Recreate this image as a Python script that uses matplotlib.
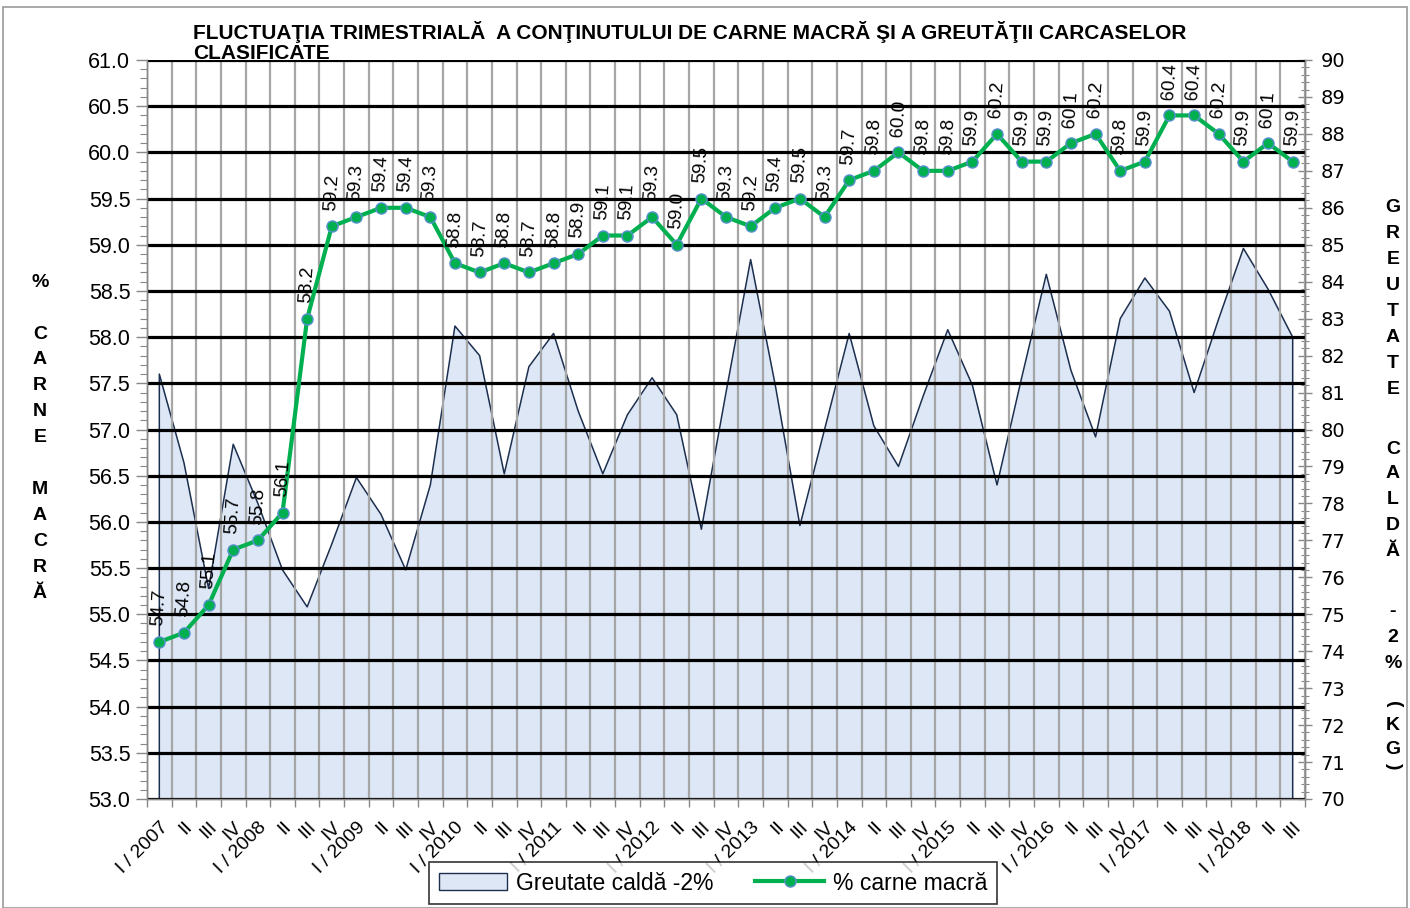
import matplotlib
matplotlib.use("Agg")
import matplotlib.pyplot as plt
from matplotlib.ticker import MultipleLocator, FixedLocator
from matplotlib.patches import Rectangle, Patch
from matplotlib.lines import Line2D
import numpy as np

years = list(range(2007, 2019))
quarter_labels = []
for y in years:
    for q in ["I", "II", "III", "IV"]:
        if y == 2018 and q == "IV":
            continue
        quarter_labels.append(f"I / {y}" if q == "I" else q)

lean_meat = [54.7, 54.8, 55.1, 55.7, 55.8, 56.1, 58.2, 59.2, 59.3, 59.4, 59.4, 59.3,
             58.8, 58.7, 58.8, 58.7, 58.8, 58.9, 59.1, 59.1, 59.3, 59.0, 59.5, 59.3,
             59.2, 59.4, 59.5, 59.3, 59.7, 59.8, 60.0, 59.8, 59.8, 59.9, 60.2, 59.9,
             59.9, 60.1, 60.2, 59.8, 59.9, 60.4, 60.4, 60.2, 59.9, 60.1, 59.9]

hot_weight = [81.5, 79.1, 75.7, 79.6, 78.0, 76.2, 75.2, 76.9, 78.7, 77.7, 76.2, 78.5,
              82.8, 82.0, 78.8, 81.7, 82.6, 80.5, 78.8, 80.4, 81.4, 80.4, 77.3, 81.0,
              84.6, 81.2, 77.4, 80.0, 82.6, 80.1, 79.0, 80.9, 82.7, 81.2, 78.5, 81.4,
              84.2, 81.6, 79.8, 83.0, 84.1, 83.2, 81.0, 83.0, 84.9, 83.8, 82.5]

title = "FLUCTUAŢIA TRIMESTRIALĂ  A CONŢINUTULUI DE CARNE MACRĂ ŞI A GREUTĂŢII CARCASELOR\nCLASIFICATE"
left_label_letters = ["%", "", "C", "A", "R", "N", "E", "", "M", "A", "C", "R", "Ă"]
right_label_letters = ["G", "R", "E", "U", "T", "A", "T", "E", "", "C", "A", "L", "D", "Ă", "", "-", "2", "%"]
legend_area = "Greutate caldă -2%"
legend_line = "% carne macră"

plt.rcParams['font.family'] = ['Liberation Sans', 'DejaVu Sans']

W, H = 1410, 908
fig = plt.figure(figsize=(W / 100, H / 100), dpi=100)
ax = fig.add_axes([147 / W, 1 - 799 / H, (1305 - 147) / W, (799 - 60) / H])
ax2 = ax.twinx()
ax.set_zorder(ax2.get_zorder() + 1)
ax.patch.set_visible(False)

x = np.arange(len(lean_meat))

# area on secondary axis
ax2.fill_between(x, hot_weight, 70, color="#dde7f5", lw=0, zorder=1)
ax2.plot(np.r_[x[0], x, x[-1]], np.r_[70, hot_weight, 70], color="#1c2f4f", lw=1.1, zorder=2)
ax2.set_ylim(70, 90)
ax2.yaxis.set_major_locator(MultipleLocator(1))
ax2.yaxis.set_minor_locator(MultipleLocator(0.2))
ax2.tick_params(axis='y', which='major', direction='inout', length=10, width=1, color='#888888',
                labelsize=14, pad=6)
ax2.tick_params(axis='y', which='minor', direction='inout', length=6, width=0.8, color='#888888')
for lab in ax2.get_yticklabels():
    lab.set_fontfamily('DejaVu Sans')

# main line
ax.plot(x, lean_meat, color="#00b050", lw=3, marker='o', markersize=8,
        markerfacecolor="#00b050", markeredgecolor="#5b8fd0", markeredgewidth=1, zorder=5)
for xi, v in zip(x, lean_meat):
    ax.annotate(f"{v:.1f}", (xi, v), xytext=(0, 11), textcoords='offset points',
                rotation=86, ha='center', va='bottom', fontsize=13.5, zorder=6)

ax.set_ylim(53, 61)
ax.set_xlim(-0.5, len(x) - 0.5)
ax.yaxis.set_major_locator(MultipleLocator(0.5))
ax.yaxis.set_minor_locator(MultipleLocator(0.1))
ax.yaxis.set_major_formatter(plt.FuncFormatter(lambda v, p: f"{v:.1f}"))
ax.tick_params(axis='y', which='major', direction='out', length=8, width=1, color='#888888',
               labelsize=15.5, pad=4)
ax.tick_params(axis='y', which='minor', direction='out', length=5, width=0.8, color='#888888')

ax.set_xticks(x)
ax.set_xticklabels(quarter_labels, rotation=45, ha='right', rotation_mode='anchor', fontsize=14)
ax.xaxis.set_minor_locator(FixedLocator(np.arange(-0.5, len(x), 1.0)))
ax.tick_params(axis='x', which='major', length=0, pad=14)
ax.tick_params(axis='x', which='minor', direction='out', length=6, width=1, color='#888888')

ax.set_axisbelow(True)
ax.grid(axis='y', which='major', color='black', lw=2.3)
ax.grid(axis='x', which='minor', color='#a6a6a6', lw=1.6)

for a in (ax, ax2):
    for s in a.spines.values():
        s.set_color('#888888')
        s.set_linewidth(1)
    a.spines['top'].set_visible(False)

# title
fig.text(193 / W, 1 - 21 / H, title, ha='left', va='top', fontsize=15, fontweight='bold',
         linespacing=1.05, zorder=10)

# vertical axis labels as stacked letters
for i, ch in enumerate(left_label_letters):
    if ch:
        fig.text(40 / W, 1 - (282 + 26 * i) / H, ch, ha='center', va='center',
                 fontsize=14, fontweight='bold')
right_pos = [207, 233, 259, 285, 311, 337, 364, 390, None, 449, 474, 500, 526, 552, None, 612, 637, 663]
for ch, yp in zip(right_label_letters, right_pos):
    if ch and yp:
        fig.text(1393 / W, 1 - yp / H, ch, ha='center', va='center',
                 fontsize=14, fontweight='bold')
fig.text(1393 / W, 1 - 704 / H, "(", ha='center', va='center', fontsize=14,
         fontweight='bold', rotation=-90)
fig.text(1393 / W, 1 - 726 / H, "K", ha='center', va='center', fontsize=14, fontweight='bold')
fig.text(1393 / W, 1 - 750 / H, "G", ha='center', va='center', fontsize=14, fontweight='bold')
fig.text(1393 / W, 1 - 766 / H, ")", ha='center', va='center', fontsize=14,
         fontweight='bold', rotation=-90)

# legend
handles = [Patch(facecolor="#dde7f5", edgecolor="#1c2f4f", lw=1),
           Line2D([0], [0], color="#00b050", lw=3, marker='o', markersize=8,
                  markerfacecolor="#00b050", markeredgecolor="#5b8fd0")]
leg = fig.legend(handles, [legend_area, legend_line], loc='center',
                 bbox_to_anchor=(713 / W, 1 - 883 / H), ncol=2, fontsize=16.5,
                 frameon=True, fancybox=False, edgecolor='black', handlelength=3,
                 columnspacing=1.8, borderpad=0.4, handletextpad=0.4)
leg.get_frame().set_linewidth(1.2)

fig.patches.append(Rectangle((3 / W, 0), (W - 6) / W, 1 - 7 / H, transform=fig.transFigure,
                             fill=False, edgecolor='#999999', lw=1.2))

fig.savefig("out.png", dpi=100)
